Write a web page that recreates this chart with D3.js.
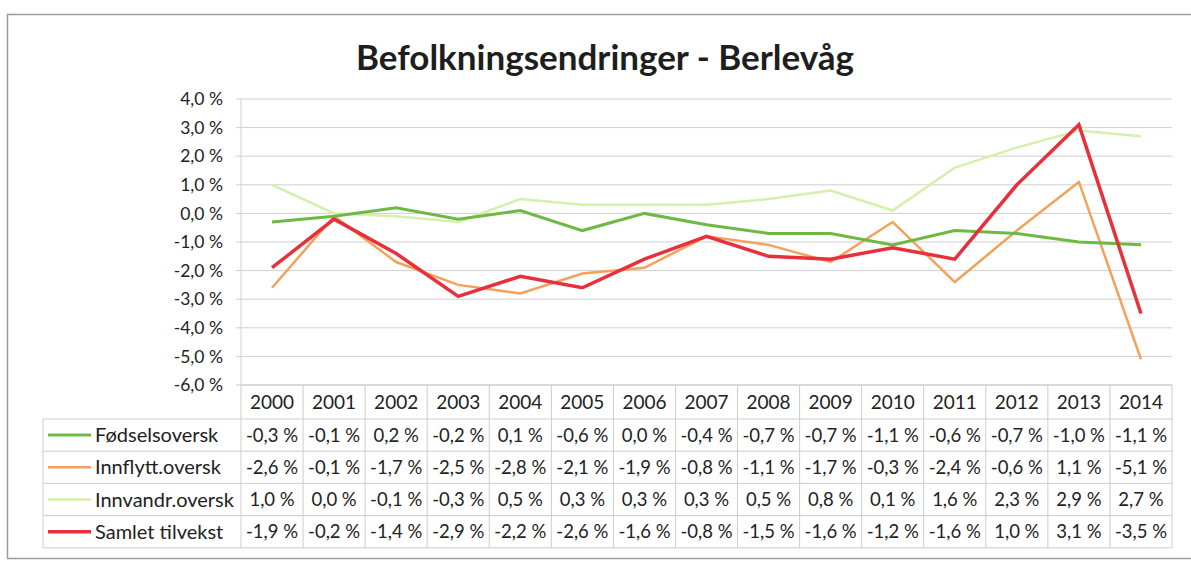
<!DOCTYPE html>
<html><head><meta charset="utf-8">
<script src="https://cdn.jsdelivr.net/npm/d3@7"></script>
<style>body{margin:0;background:#fff}svg{display:block}text{font-family:Lato,"Open Sans",sans-serif;fill:#222}</style>
</head><body><svg id="c" width="1191" height="561"></svg>
<script>
const years = [2000,2001,2002,2003,2004,2005,2006,2007,2008,2009,2010,2011,2012,2013,2014];
const seriesNames = ["Fødselsoversk","Innflytt.oversk","Innvandr.oversk","Samlet tilvekst"];
const fodsel   = [-0.3,-0.1,0.2,-0.2,0.1,-0.6,0.0,-0.4,-0.7,-0.7,-1.1,-0.6,-0.7,-1.0,-1.1];
const innflytt = [-2.6,-0.1,-1.7,-2.5,-2.8,-2.1,-1.9,-0.8,-1.1,-1.7,-0.3,-2.4,-0.6,1.1,-5.1];
const innvandr = [1.0,0.0,-0.1,-0.3,0.5,0.3,0.3,0.3,0.5,0.8,0.1,1.6,2.3,2.9,2.7];
const samlet   = [-1.9,-0.2,-1.4,-2.9,-2.2,-2.6,-1.6,-0.8,-1.5,-1.6,-1.2,-1.6,1.0,3.1,-3.5];
const yTicks = [4,3,2,1,0,-1,-2,-3,-4,-5,-6];
const title = "Befolkningsendringer - Berlevåg";

const colors = ["#6db944","#f4a15c","#d4f0aa","#e8303c"];
const widths = [3,2.5,2.5,3.5];
const allSeries = [fodsel,innflytt,innvandr,samlet];

const svg = d3.select("#c");
const L=241, R=1172, T=99, B=385;
const x = d3.scaleBand().domain(years).range([L,R]);
const y = d3.scaleLinear().domain([-6,4]).range([B,T]);
const fmt = v => d3.format(".1f")(v).replace(".",",").replace("−","-") + " %";

// outer frame
svg.append("rect").attr("x",7.5).attr("y",14.5).attr("width",1195).attr("height",544)
  .attr("fill","none").attr("stroke","#9a9a9a").attr("stroke-width",1.5);

svg.append("text").attr("x",605).attr("y",70).attr("text-anchor","middle")
  .style("font-size","35px").style("font-weight","bold").style("fill","#1e1e1e").text(title);

// gridlines
svg.append("g").selectAll("line").data(yTicks).join("line")
  .attr("x1",L-5).attr("x2",R).attr("y1",d=>y(d)).attr("y2",d=>y(d))
  .attr("stroke","#d0d0d0").attr("stroke-width",1);
svg.append("line").attr("x1",L).attr("x2",L).attr("y1",T).attr("y2",B).attr("stroke","#d0d0d0");

// y axis labels
const yAxis = d3.axisLeft(y).tickValues(yTicks).tickFormat(fmt).tickSize(0).tickPadding(0);
const ga = svg.append("g").attr("transform",`translate(${L-18},0)`).call(yAxis);
ga.select(".domain").remove();
ga.selectAll("text").style("font-size","17.5px").style("font-family","Lato,sans-serif").attr("fill","#222");

// lines
const line = d3.line().x((d,i)=>x(years[i])+x.bandwidth()/2).y(d=>y(d));
[2,1,0,3].forEach(k=>{
  svg.append("path").datum(allSeries[k]).attr("d",line).attr("fill","none")
    .attr("stroke",colors[k]).attr("stroke-width",widths[k]).attr("stroke-linejoin","miter");
});

// data table
const hdrTop=B, hdrBot=419, rowH=32.2, LL=43;
const rowY = i => hdrBot + i*rowH;
const tb = svg.append("g");
const gc = "#cccccc";
tb.append("line").attr("x1",L).attr("x2",R).attr("y1",hdrTop).attr("y2",hdrTop).attr("stroke",gc);
for(let i=0;i<=4;i++){
  tb.append("line").attr("x1",LL).attr("x2",R).attr("y1",rowY(i)).attr("y2",rowY(i)).attr("stroke",gc);
}
tb.append("line").attr("x1",LL).attr("x2",LL).attr("y1",hdrBot).attr("y2",rowY(4)).attr("stroke",gc);
years.forEach(yr=>{
  tb.append("line").attr("x1",x(yr)).attr("x2",x(yr)).attr("y1",hdrTop).attr("y2",rowY(4)).attr("stroke",gc);
});
tb.append("line").attr("x1",R).attr("x2",R).attr("y1",hdrTop).attr("y2",rowY(4)).attr("stroke",gc);

tb.selectAll("text.yr").data(years).join("text").attr("class","yr")
  .attr("x",d=>x(d)+x.bandwidth()/2).attr("y",hdrTop+(hdrBot-hdrTop)/2+7)
  .attr("text-anchor","middle").style("font-size","19px").text(d=>d);

allSeries.forEach((s,k)=>{
  const cy = rowY(k)+rowH/2;
  tb.append("line").attr("x1",48).attr("x2",91).attr("y1",cy).attr("y2",cy)
    .attr("stroke",colors[k]).attr("stroke-width",widths[k]);
  tb.append("text").attr("x",95).attr("y",cy+7).style("font-size","20px").text(seriesNames[k]);
  tb.selectAll(null).data(s).join("text")
    .attr("x",(d,i)=>x(years[i])+x.bandwidth()/2).attr("y",cy+6.5)
    .attr("text-anchor","middle").style("font-size","18.5px").text(d=>fmt(d));
});
</script></body></html>
